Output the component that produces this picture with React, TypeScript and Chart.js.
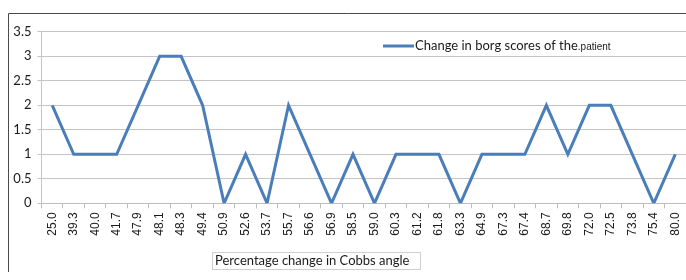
import React, { useEffect, useRef } from "react";
import { Chart, registerables } from "chart.js";

Chart.register(...registerables);

const categories = [
  "25.0", "39.3", "40.0", "41.7", "47.9", "48.1", "48.3", "49.4", "50.9", "52.6",
  "53.7", "55.7", "56.6", "56.9", "58.5", "59.0", "60.3", "61.2", "61.8", "63.3",
  "64.9", "67.3", "67.4", "68.7", "69.8", "72.0", "72.5", "73.8", "75.4", "80.0",
];
const borgChange = [
  2, 1, 1, 1, 2, 3, 3, 2, 0, 1,
  0, 2, 1, 0, 1, 0, 1, 1, 1, 0,
  1, 1, 1, 2, 1, 2, 2, 1, 0, 1,
];
const seriesLabelMain = "Change in borg scores of the";
const seriesLabelTail = ".patient";
const xTitle = "Percentage change in Cobbs angle";

const LINE_COLOR = "#4a7ebb";

const overlayPlugin = {
  id: "overlay",
  beforeDraw(chart: any) {
    const ctx = chart.ctx as CanvasRenderingContext2D;
    ctx.save();
    ctx.strokeStyle = "#4a4a4a";
    ctx.lineWidth = 1;
    ctx.beginPath();
    ctx.moveTo(0.5, 400);
    ctx.lineTo(0.5, 5.5);
    ctx.lineTo(chart.width + 5, 5.5);
    ctx.stroke();
    ctx.restore();
  },
  afterDraw(chart: any) {
    const ctx = chart.ctx as CanvasRenderingContext2D;
    ctx.save();
    // legend
    ctx.strokeStyle = LINE_COLOR;
    ctx.lineWidth = 3;
    ctx.beginPath();
    ctx.moveTo(375, 38);
    ctx.lineTo(406, 38);
    ctx.stroke();
    ctx.fillStyle = "#1a1a1a";
    ctx.textBaseline = "middle";
    ctx.textAlign = "left";
    ctx.font = "13px Lato";
    ctx.fillText(seriesLabelMain, 407, 38);
    const w = ctx.measureText(seriesLabelMain).width;
    ctx.font = "10px 'Liberation Sans'";
    ctx.fillText(seriesLabelTail, 407 + w, 39);
    // x title box
    ctx.strokeStyle = "#cfcfcf";
    ctx.lineWidth = 1;
    ctx.strokeRect(204.5, 244.5, 208, 17);
    ctx.font = "13px Lato";
    ctx.fillStyle = "#1a1a1a";
    ctx.fillText(xTitle, 207, 253);
    ctx.restore();
  },
};

export default function App() {
  const ref = useRef<HTMLCanvasElement>(null);
  useEffect(() => {
    document.documentElement.style.overflow = "hidden";
    if (!ref.current) return;
    const chart = new Chart(ref.current, {
      type: "line",
      data: {
        labels: categories,
        datasets: [
          {
            label: seriesLabelMain + seriesLabelTail,
            data: borgChange,
            borderColor: LINE_COLOR,
            backgroundColor: LINE_COLOR,
            borderWidth: 3,
            pointRadius: 0,
            tension: 0,
          },
        ],
      },
      options: {
        responsive: false,
        animation: false,
        layout: { padding: { left: 0, top: 23.8, right: -10.5, bottom: 0 } },
        plugins: { legend: { display: false }, tooltip: { enabled: false } },
        scales: {
          x: {
            type: "category",
            offset: true,
            afterFit: (s: any) => {
              s.height = 68.7;
              s.paddingLeft = 0;
              s.paddingRight = 0;
            },
            grid: {
              offset: true,
              drawOnChartArea: false,
              drawTicks: true,
              tickLength: 5,
              color: "#bdbdbd",
            },
            border: { display: true, color: "#bdbdbd" },
            ticks: {
              autoSkip: false,
              minRotation: 90,
              maxRotation: 90,
              padding: 4,
              color: "#1a1a1a",
              font: { family: "'Liberation Sans'", size: 12 },
            },
          },
          y: {
            min: 0,
            max: 3.5,
            afterFit: (s: any) => {
              s.width = 33.5;
              s.paddingTop = 0;
              s.paddingBottom = 0;
            },
            grid: { color: "#c4c4c4", tickLength: 4, drawTicks: true },
            border: { display: true, color: "#c4c4c4" },
            ticks: {
              stepSize: 0.5,
              padding: 6,
              color: "#1a1a1a",
              font: { family: "Lato", size: 13 },
              callback: (v: any) => String(v),
            },
          },
        },
      },
      plugins: [overlayPlugin],
    });
    return () => chart.destroy();
  }, []);

  return (
    <div style={{ position: "fixed", left: 8, top: 8, width: 678, height: 264 }}>
      <canvas
        ref={ref}
        width={678}
        height={264}
        style={{ display: "block", width: 678, height: 264 }}
      />
    </div>
  );
}
